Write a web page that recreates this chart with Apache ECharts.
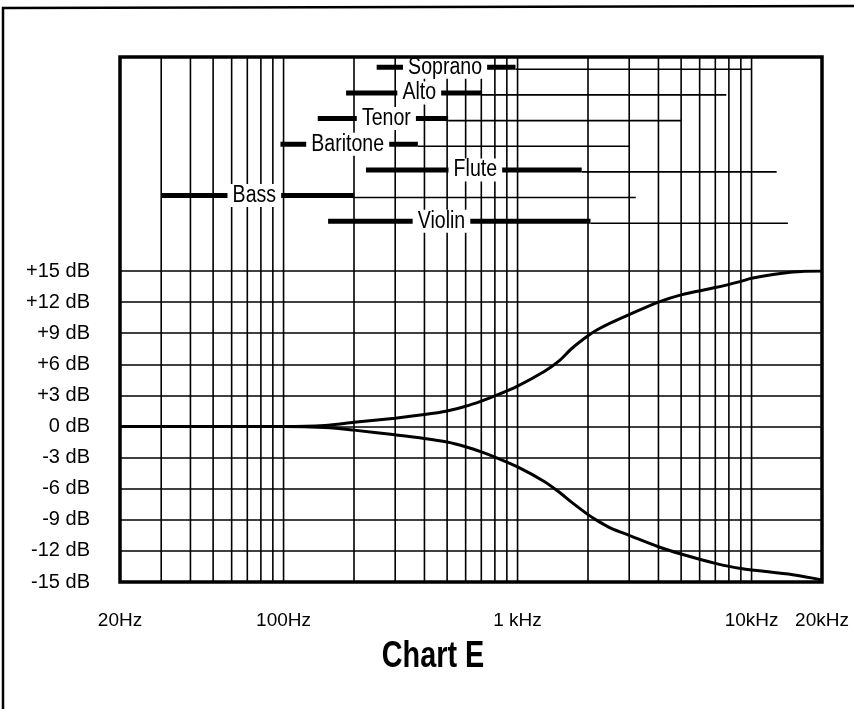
<!DOCTYPE html>
<html>
<head>
<meta charset="utf-8">
<script src="https://cdn.jsdelivr.net/npm/echarts@6/dist/echarts.min.js"></script>
<style>
  html, body { margin: 0; padding: 0; background: #fff; }
  #chart { width: 854px; height: 709px; }
</style>
</head>
<body>
<div id="chart"></div>
<script>
// ---- data ----
const xTickValues = [20, 100, 1000, 10000, 20000];
const xTickLabels = ['20Hz', '100Hz', '1 kHz', '10kHz', '20kHz'];
const gridFreqs = [30, 40, 50, 60, 70, 80, 90, 100, 200, 300, 400, 500, 600, 700, 800, 900, 1000,
                   2000, 3000, 4000, 5000, 6000, 7000, 8000, 9000, 10000];

const boostFreq = [20, 100, 150, 200, 300, 400, 500, 600, 700, 800, 1000, 1300, 1500, 1700, 2000, 2200, 2500, 3000, 4000, 5000, 7000, 9000, 10000, 15000, 20000];
const boostGain = [0, 0, 0.1, 0.4, 0.8, 1.15, 1.5, 1.95, 2.45, 2.95, 3.9, 5.3, 6.3, 7.5, 8.75, 9.35, 10.0, 10.8, 12.0, 12.7, 13.4, 14.0, 14.3, 14.9, 15.0];

const cutFreq = [20, 100, 150, 200, 300, 400, 500, 600, 700, 800, 1000, 1300, 1500, 1700, 2000, 2200, 2500, 3000, 4000, 5000, 7000, 9000, 15000, 20000];
const cutGain = [0, 0, -0.1, -0.35, -0.8, -1.15, -1.5, -1.95, -2.45, -2.95, -3.9, -5.3, -6.3, -7.3, -8.5, -9.1, -9.8, -10.5, -11.6, -12.3, -13.2, -13.7, -14.3, -14.8];

const instruments = ['Soprano', 'Alto', 'Tenor', 'Baritone', 'Flute', 'Bass', 'Violin'];
const fundLow  = [250, 185, 140, 97, 225, 30, 155];
const fundHigh = [980, 700, 505, 375, 1880, 200, 2050];
const harmHigh = [10000, 7800, 5000, 3000, 12800, 3200, 14300];
const labelAt  = [490, 380, 275, 188, 660, 75, 473];

// ---- build ----
const FONT = 'Liberation Sans, Arial, sans-serif';
const chart = echarts.init(document.getElementById('chart'), null, { renderer: 'canvas' });

function fmtX(v) {
  for (let i = 0; i < xTickValues.length; i++) {
    if (Math.abs(v - xTickValues[i]) / xTickValues[i] < 0.01) return xTickLabels[i];
  }
  return '';
}

const rangeData = instruments.map((n, i) => [fundLow[i], fundHigh[i], harmHigh[i], i, labelAt[i], i]);

function gridLineRender(params, api) {
  const cs = params.coordSys;
  const x = api.coord([api.value(0), api.value(1)])[0];
  return {
    type: 'line',
    shape: { x1: x, y1: cs.y, x2: x, y2: cs.y + cs.height },
    style: { stroke: '#000', lineWidth: 1.6 }
  };
}

const gridData = gridFreqs.map(f => [f, 0]);

const option = {
  backgroundColor: '#fff',
  animation: false,
  grid: [
    { left: 120, right: 32, top: 57, height: 214 },
    { left: 120, right: 32, top: 271, height: 311 }
  ],
  xAxis: [
    { type: 'log', logBase: 10, min: 20, max: 20000, gridIndex: 0,
      axisLine: { show: false }, axisTick: { show: false }, axisLabel: { show: false }, splitLine: { show: false } },
    { type: 'log', logBase: 10, min: 20, max: 20000, gridIndex: 1,
      axisLine: { show: false }, axisTick: { show: false }, splitLine: { show: false },
      axisLabel: { show: true, formatter: fmtX, color: '#000', fontFamily: FONT, fontSize: 19, margin: 29,
                   showMinLabel: true, showMaxLabel: true, hideOverlap: false } }
  ],
  yAxis: [
    { type: 'value', gridIndex: 0, inverse: true, min: -0.4, max: 7.94, show: false, splitLine: { show: false } },
    { type: 'value', gridIndex: 1, min: -15, max: 15, interval: 3,
      axisLine: { show: false }, axisTick: { show: false },
      splitLine: { show: true, lineStyle: { color: '#000', width: 1.6 } },
      axisLabel: { color: '#000', fontFamily: FONT, fontSize: 20, margin: 30,
                   formatter: v => (v > 0 ? '+' + v : '' + v) + ' dB' } }
  ],
  series: [
    { type: 'custom', name: 'gridTop', xAxisIndex: 0, yAxisIndex: 0, z: 1, silent: true,
      encode: { x: 0, y: 1 }, data: gridData, renderItem: gridLineRender },
    { type: 'custom', name: 'gridBottom', xAxisIndex: 1, yAxisIndex: 1, z: 1, silent: true,
      encode: { x: 0, y: 1 }, data: gridData, renderItem: gridLineRender },
    { type: 'line', name: 'Boost', xAxisIndex: 1, yAxisIndex: 1, z: 3, smooth: 0.3, symbol: 'none',
      lineStyle: { color: '#000', width: 3 },
      data: boostFreq.map((f, i) => [f, boostGain[i]]) },
    { type: 'line', name: 'Cut', xAxisIndex: 1, yAxisIndex: 1, z: 3, smooth: 0.3, symbol: 'none',
      lineStyle: { color: '#000', width: 3 },
      data: cutFreq.map((f, i) => [f, cutGain[i]]) },
    { type: 'custom', name: 'Ranges', xAxisIndex: 0, yAxisIndex: 0, z: 5, silent: true,
      encode: { x: [0, 1, 2, 4], y: 3 },
      data: rangeData,
      renderItem: function (params, api) {
        const row = api.value(3);
        const lo = api.coord([api.value(0), row]);
        const hi = api.coord([api.value(1), row]);
        const ex = api.coord([api.value(2), row]);
        const lb = api.coord([api.value(4), row]);
        return {
          type: 'group',
          children: [
            { type: 'line', z2: 1, shape: { x1: hi[0], y1: hi[1] + 2, x2: ex[0], y2: ex[1] + 2 },
              style: { stroke: '#000', lineWidth: 1.6 } },
            { type: 'line', z2: 2, shape: { x1: lo[0], y1: lo[1], x2: hi[0], y2: hi[1] },
              style: { stroke: '#000', lineWidth: 5 } },
            { type: 'text', z2: 3, x: lb[0], y: lb[1], scaleX: 0.85,
              style: { text: instruments[api.value(5)], fill: '#000', font: '23px ' + FONT,
                       align: 'center', verticalAlign: 'middle',
                       backgroundColor: '#fff', padding: [0, 6, 0, 6] } }
          ]
        };
      }
    }
  ],
  graphic: [
    { type: 'rect', z: 100, silent: true,
      shape: { x: 120, y: 57, width: 702, height: 525 },
      style: { fill: 'none', stroke: '#000', lineWidth: 3.5 } },
    { type: 'polyline', z: 100, silent: true,
      shape: { points: [[3, 709], [3, 8], [854, 6]] },
      style: { fill: 'none', stroke: '#000', lineWidth: 2.5 } },
    { type: 'text', z: 100, x: 433, y: 657, scaleX: 0.8, silent: true,
      style: { text: 'Chart E', fill: '#000', font: 'bold 36px ' + FONT, align: 'center', verticalAlign: 'middle' } }
  ]
};
chart.setOption(option);
</script>
</body>
</html>
